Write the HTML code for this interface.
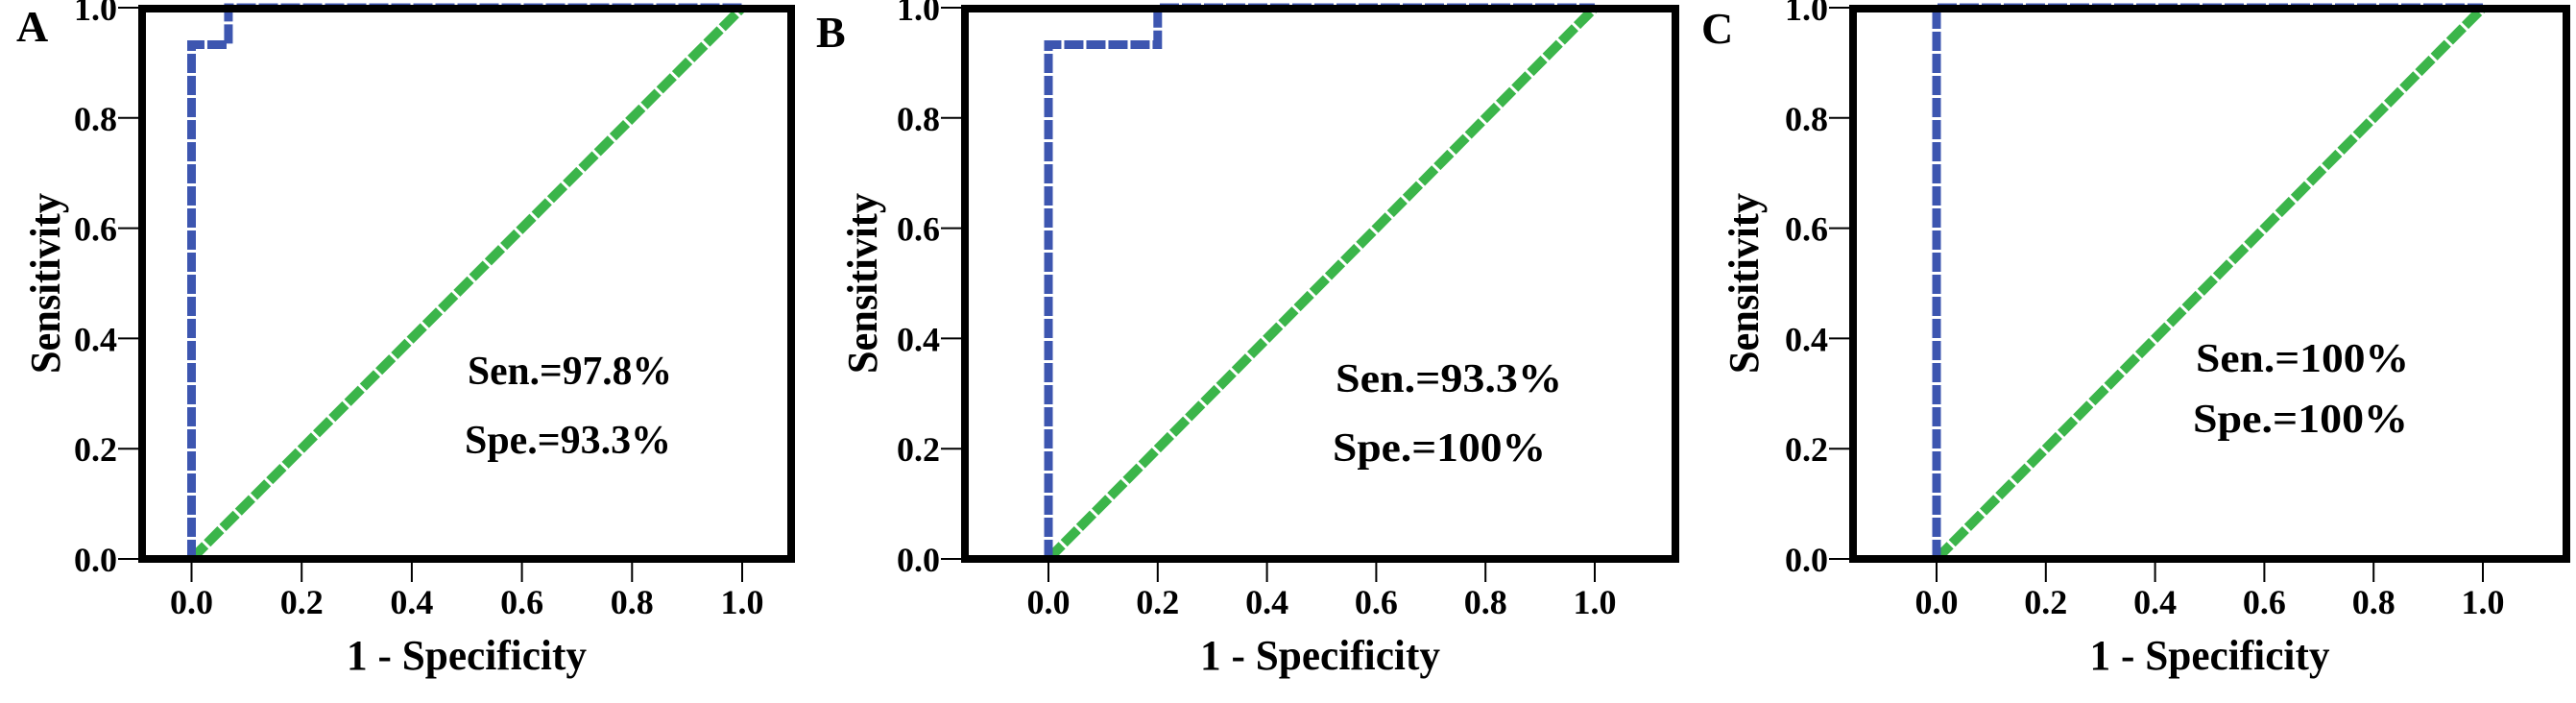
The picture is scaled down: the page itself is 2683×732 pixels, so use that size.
<!DOCTYPE html>
<html><head><meta charset="utf-8"><style>
html,body{margin:0;padding:0;background:#fff;}
svg{display:block;}
text{font-family:"Liberation Serif",serif;font-weight:bold;fill:#000;}
</style></head><body>
<svg id="chart" width="2683" height="732" viewBox="0 0 2683 732" xmlns="http://www.w3.org/2000/svg"></svg>
<script>
const panelLetters = ["A", "B", "C"];
const rocXA = [0, 0, 0.067, 0.067, 1];
const rocYA = [0, 0.933, 0.933, 1, 1];
const rocXB = [0, 0, 0.2, 0.2, 1];
const rocYB = [0, 0.933, 0.933, 1, 1];
const rocXC = [0, 0, 1];
const rocYC = [0, 1, 1];
const refX = [0, 1];
const refY = [0, 1];
const tickValues = [0, 0.2, 0.4, 0.6, 0.8, 1.0];
const tickLabels = ["0.0", "0.2", "0.4", "0.6", "0.8", "1.0"];
const senLabels = ["Sen.=97.8%", "Sen.=93.3%", "Sen.=100%"];
const speLabels = ["Spe.=93.3%", "Spe.=100%", "Spe.=100%"];

const NS = "http://www.w3.org/2000/svg";
const svg = document.getElementById("chart");
function mk(tag, attrs, parent) {
  const e = document.createElementNS(NS, tag);
  for (const k in attrs) e.setAttribute(k, attrs[k]);
  (parent || svg).appendChild(e);
  return e;
}
const layouts = [
  {fl:148, x0:199.5, x1:773, fr:824, lx:17, ly:43, yl:47, senX:487, senY:400, speY:472, senW:213, speW:215},
  {fl:1005, x0:1092, x1:1661, fr:1745, lx:850, ly:49, yl:898, senX:1391, senY:408, speY:480, senW:236, speW:222},
  {fl:1930, x0:2017, x1:2586, fr:2673, lx:1772, ly:45, yl:1816, senX:2287, senY:387, speY:450, senW:222, speW:224}
];
const rocX = [rocXA, rocXB, rocXC];
const rocY = [rocYA, rocYB, rocYC];
const Y1 = 8, Y0 = 582;

layouts.forEach((L, i) => {
  const g = mk("g", {});
  
  
  const sx = v => L.x0 + v * (L.x1 - L.x0);
  const sy = v => Y0 - v * (Y0 - Y1);

  const lt = mk("text", {x: L.lx, y: L.ly, "font-size": 46}, g);
  lt.textContent = panelLetters[i];
  
  

  const ref = mk("polyline", {points: refX.map((v, k) => sx(v) + "," + sy(refY[k])).join(" "),
    fill: "none", stroke: "#3bb54a", "stroke-width": 10, "stroke-dasharray": "20 3"}, g);
  
  

  const roc = mk("polyline", {points: rocX[i].map((v, k) => sx(v) + "," + sy(rocY[i][k])).join(" "),
    fill: "none", stroke: "#3d56b0", "stroke-width": 9, "stroke-dasharray": "20 3"}, g);
  
  

  const fr = mk("rect", {x: L.fl, y: Y1 + 1, width: L.fr - L.fl, height: Y0 - Y1 - 1,
    fill: "none", stroke: "#000", "stroke-width": 8}, g);
  
  

  tickValues.forEach((v, k) => {
    const yt = mk("line", {x1: L.fl - 25, x2: L.fl, y1: sy(v), y2: sy(v), stroke: "#000", "stroke-width": 2}, g);
    
    
    const yl = mk("text", {x: L.fl - 26, y: sy(v) + 13, "font-size": 36, "text-anchor": "end"}, g);
    yl.textContent = tickLabels[k];
    
    
    const xt = mk("line", {x1: sx(v), x2: sx(v), y1: Y0, y2: Y0 + 24, stroke: "#000", "stroke-width": 2}, g);
    
    
    const xl = mk("text", {x: sx(v), y: 639, "font-size": 36, "text-anchor": "middle"}, g);
    xl.textContent = tickLabels[k];
    
    
  });

  const xa = mk("text", {x: (L.fl + L.fr) / 2, y: 697, "font-size": 44, "text-anchor": "middle",
    textLength: 250, lengthAdjust: "spacingAndGlyphs"}, g);
  xa.textContent = "1 - Specificity";
  
  

  const ya = mk("text", {x: 0, y: 0, "font-size": 44, "text-anchor": "middle",
    textLength: 188, lengthAdjust: "spacingAndGlyphs",
    transform: "translate(" + (L.yl + 15) + "," + ((Y0 + Y1) / 2) + ") rotate(-90)"}, g);
  ya.textContent = "Sensitivity";
  
  

  const s1 = mk("text", {x: L.senX, y: L.senY, "font-size": 42, textLength: L.senW, lengthAdjust: "spacingAndGlyphs"}, g);
  s1.textContent = senLabels[i];
  
  
  const s2 = mk("text", {x: L.senX - 3, y: L.speY, "font-size": 42, textLength: L.speW, lengthAdjust: "spacingAndGlyphs"}, g);
  s2.textContent = speLabels[i];
  
  
});
</script>
</body></html>
